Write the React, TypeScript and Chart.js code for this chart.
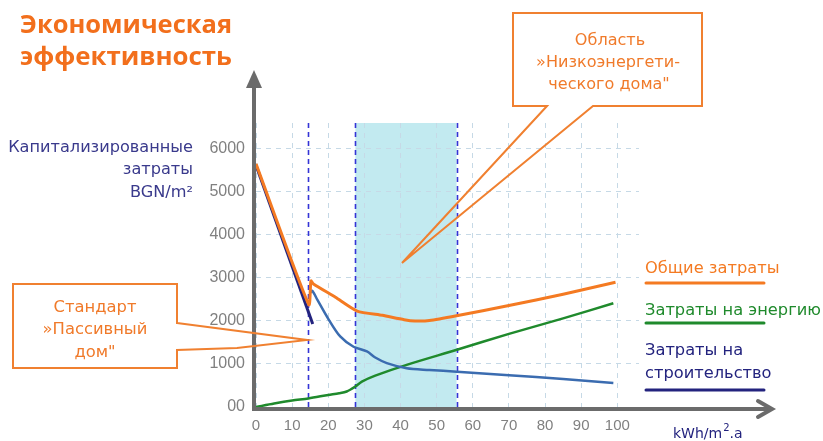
import React, { useEffect, useRef } from "react";
import { Chart, registerables } from "chart.js";
Chart.register(...registerables);

// ---- data ----
const xTickValues = [0, 10, 20, 30, 40, 50, 60, 70, 80, 90, 100];
const yTickValues = [0, 1000, 2000, 3000, 4000, 5000, 6000];

const totalX = [0, 14.6, 15.2, 15.9, 22, 28, 35, 41, 44, 48, 55.5, 70, 85, 99.5];
const totalY = [5650, 2380, 2930, 2860, 2550, 2230, 2130, 2030, 2000, 2010, 2120, 2360, 2620, 2900];

const constrSteepX = [0, 15.7];
const constrSteepY = [5620, 1930];

const constrX = [15.1, 15.6, 17, 20, 23.3, 27, 30.7, 33, 36.2, 41.7, 48, 55.6, 70, 85, 98.9];
const constrY = [2660, 2700, 2490, 2050, 1640, 1400, 1290, 1150, 1020, 900, 860, 820, 740, 650, 560];

const energyX = [0, 5, 10, 14.5, 20, 23, 25.1, 27.4, 29.3, 33, 41.7, 55.6, 70, 85, 98.9];
const energyY = [0, 80, 150, 200, 280, 320, 360, 470, 590, 730, 980, 1330, 1700, 2060, 2410];

const passiveLine = 14.5;
const lowEnergyFrom = 27.5;
const lowEnergyTo = 55.5;

const titleLines = ["Экономическая", "эффективность"];
const yTitleLines = ["Капитализированные", "затраты", "BGN/m²"];
const passiveLabel = ["Стандарт", "»Пассивный", "дом\""];
const lowEnergyLabel = ["Область", "»Низкоэнергети-", "ческого дома\""];
const legendTotal = "Общие затраты";
const legendEnergy = "Затраты на энергию";
const legendConstr = ["Затраты на", "строительство"];
const xUnit = ["kWh/m", "2", ".a"];

const ORANGE = "#f47a22";
const GREEN = "#1f8a2c";
const BLUE = "#3b6cb0";
const NAVY = "#23237e";
const AXIS = "#6b6b6b";
const GRID = "#c6d9e6";

const zip = (xs: number[], ys: number[]) => xs.map((x, i) => ({ x, y: ys[i] }));

function fitText(ctx: CanvasRenderingContext2D, text: string, weight: string, family: string, target: number) {
  ctx.font = `${weight} 20px ${family}`;
  const w = ctx.measureText(text).width;
  const size = (20 * target) / w;
  ctx.font = `${weight} ${size.toFixed(2)}px ${family}`;
}

const decorPlugin = {
  id: "decor",
  beforeDraw(chart: any) {
    const { ctx, chartArea } = chart;
    const xs = chart.scales.x;
    const x1 = xs.getPixelForValue(lowEnergyFrom);
    const x2 = xs.getPixelForValue(lowEnergyTo);
    ctx.save();
    ctx.fillStyle = "#c2eaf0";
    ctx.fillRect(x1, chartArea.top, x2 - x1, chartArea.bottom - chartArea.top);
    ctx.restore();
  },
  beforeDatasetsDraw(chart: any) {
    const { ctx, chartArea } = chart;
    const xs = chart.scales.x;
    ctx.save();
    ctx.strokeStyle = "#3434d6";
    ctx.lineWidth = 1.6;
    ctx.setLineDash([5, 4]);
    [passiveLine, lowEnergyFrom, lowEnergyTo].forEach((v) => {
      const px = Math.round(xs.getPixelForValue(v)) + 0.5;
      ctx.beginPath();
      ctx.moveTo(px, chartArea.top);
      ctx.lineTo(px, chartArea.bottom);
      ctx.stroke();
    });
    ctx.setLineDash([]);
    // axes with arrows
    const ax = chartArea.left - 2;
    const ay = chartArea.bottom + 2;
    ctx.strokeStyle = AXIS;
    ctx.fillStyle = AXIS;
    ctx.lineWidth = 4;
    ctx.beginPath();
    ctx.moveTo(ax, ay + 2);
    ctx.lineTo(ax, 84);
    ctx.stroke();
    ctx.beginPath();
    ctx.moveTo(ax, 70);
    ctx.lineTo(ax - 8, 88);
    ctx.lineTo(ax + 8, 88);
    ctx.closePath();
    ctx.fill();
    ctx.beginPath();
    ctx.moveTo(ax - 2, ay);
    ctx.lineTo(770, ay);
    ctx.stroke();
    ctx.lineCap = "round";
    ctx.beginPath();
    ctx.moveTo(758, ay - 8);
    ctx.lineTo(772, ay);
    ctx.lineTo(758, ay + 8);
    ctx.stroke();
    ctx.restore();
  },
  afterDraw(chart: any) {
    const { ctx } = chart;
    ctx.save();
    const sans = "'DejaVu Sans'";
    // title
    ctx.fillStyle = "#f26f1c";
    ctx.textAlign = "left";
    ctx.textBaseline = "alphabetic";
    fitText(ctx, titleLines[0], "bold", "'Open Sans'", 212);
    ctx.fillText(titleLines[0], 20, 33);
    fitText(ctx, titleLines[1], "bold", "'Open Sans'", 212);
    ctx.fillText(titleLines[1], 20, 65);

    // y title
    ctx.fillStyle = "#3a3a8c";
    ctx.textAlign = "right";
    fitText(ctx, yTitleLines[0], "", sans, 185);
    ctx.fillText(yTitleLines[0], 193, 152);
    ctx.fillText(yTitleLines[1], 193, 174);
    ctx.fillText(yTitleLines[2], 193, 197);

    // legend texts
    ctx.textAlign = "left";
    fitText(ctx, legendEnergy, "", sans, 176);
    ctx.fillStyle = ORANGE;
    ctx.fillText(legendTotal, 645, 273);
    ctx.fillStyle = GREEN;
    ctx.fillText(legendEnergy, 645, 315);
    ctx.fillStyle = NAVY;
    ctx.fillText(legendConstr[0], 645, 355);
    ctx.fillText(legendConstr[1], 645, 378);
    ctx.lineWidth = 3;
    ctx.lineCap = "round";
    [[ORANGE, 283], [GREEN, 323], [NAVY, 390]].forEach(([c, y]) => {
      ctx.strokeStyle = c as string;
      ctx.beginPath();
      ctx.moveTo(646, y as number);
      ctx.lineTo(764, y as number);
      ctx.stroke();
    });

    // x unit
    ctx.fillStyle = NAVY;
    ctx.font = `14px ${sans}`;
    ctx.fillText(xUnit[0], 673, 438);
    const w1 = ctx.measureText(xUnit[0]).width;
    ctx.font = `10px ${sans}`;
    ctx.fillText(xUnit[1], 673 + w1 + 1, 431);
    const w2 = ctx.measureText(xUnit[1]).width;
    ctx.font = `14px ${sans}`;
    ctx.fillText(xUnit[2], 673 + w1 + w2 + 1, 438);

    // callouts
    ctx.strokeStyle = "#f08030";
    ctx.lineWidth = 2;
    ctx.lineJoin = "miter";
    ctx.lineCap = "butt";
    ctx.beginPath();
    ctx.moveTo(177, 323);
    ctx.lineTo(307, 340);
    ctx.lineTo(237, 348);
    ctx.lineTo(177, 350);
    ctx.lineTo(177, 368);
    ctx.lineTo(13, 368);
    ctx.lineTo(13, 284);
    ctx.lineTo(177, 284);
    ctx.closePath();
    ctx.stroke();
    ctx.beginPath();
    ctx.moveTo(547, 106);
    ctx.lineTo(402, 263);
    ctx.lineTo(593, 106);
    ctx.lineTo(702, 106);
    ctx.lineTo(702, 13);
    ctx.lineTo(513, 13);
    ctx.lineTo(513, 106);
    ctx.closePath();
    ctx.stroke();

    ctx.fillStyle = "#f07a2a";
    ctx.textAlign = "center";
    fitText(ctx, passiveLabel[1], "", sans, 105);
    ctx.fillText(passiveLabel[0], 95, 312);
    ctx.fillText(passiveLabel[1], 95, 334);
    ctx.fillText(passiveLabel[2], 95, 357);
    fitText(ctx, lowEnergyLabel[1], "", sans, 144);
    ctx.fillText(lowEnergyLabel[0], 610, 45);
    ctx.fillText(lowEnergyLabel[1], 608, 67);
    ctx.fillText(lowEnergyLabel[2], 609, 89);
    ctx.restore();
  },
};

export default function App() {
  const ref = useRef<HTMLCanvasElement>(null);
  useEffect(() => {
    if (!ref.current) return;
    const chart = new Chart(ref.current, {
      type: "line",
      data: {
        datasets: [
          { data: zip(totalX, totalY), borderColor: ORANGE, borderWidth: 3, tension: 0.2, pointRadius: 0 },
          { data: zip(constrSteepX, constrSteepY), borderColor: NAVY, borderWidth: 3, tension: 0, pointRadius: 0 },
          { data: zip(constrX, constrY), borderColor: BLUE, borderWidth: 2.5, tension: 0.3, pointRadius: 0 },
          { data: zip(energyX, energyY), borderColor: GREEN, borderWidth: 2.5, tension: 0.3, pointRadius: 0 },
        ],
      },
      options: {
        animation: false,
        responsive: false,
        devicePixelRatio: 1,
        layout: { padding: { top: 123, right: 184, left: 0, bottom: 0 } },
        plugins: { legend: { display: false }, tooltip: { enabled: false }, title: { display: false } },
        scales: {
          x: {
            type: "linear",
            min: 0,
            max: 106,
            afterFit: (s: any) => { s.height = 34; },
            afterBuildTicks: (s: any) => { s.ticks = xTickValues.map((v) => ({ value: v })); },
            grid: { color: GRID, lineWidth: 1, drawTicks: false },
            border: { display: false, dash: [5, 5] },
            ticks: { color: "#808080", font: { family: "'Liberation Sans'", size: 15 }, padding: 10, maxRotation: 0 },
          },
          y: {
            type: "linear",
            min: 0,
            max: 6600,
            afterFit: (s: any) => { s.width = 256; },
            afterBuildTicks: (s: any) => { s.ticks = yTickValues.map((v) => ({ value: v })); },
            grid: { color: GRID, lineWidth: 1, drawTicks: false },
            border: { display: false, dash: [5, 5] },
            ticks: {
              color: "#808080",
              font: { family: "'Liberation Sans'", size: 16 },
              padding: 11,
              callback: (v: any) => (v === 0 ? "00" : String(v)),
            },
          },
        },
      },
      plugins: [decorPlugin],
    } as any);
    return () => chart.destroy();
  }, []);
  return (
    <div style={{ position: "absolute", left: 0, top: 0, width: 823, height: 441, background: "#fff" }}>
      <canvas ref={ref} width={823} height={441} style={{ display: "block" }} />
    </div>
  );
}
